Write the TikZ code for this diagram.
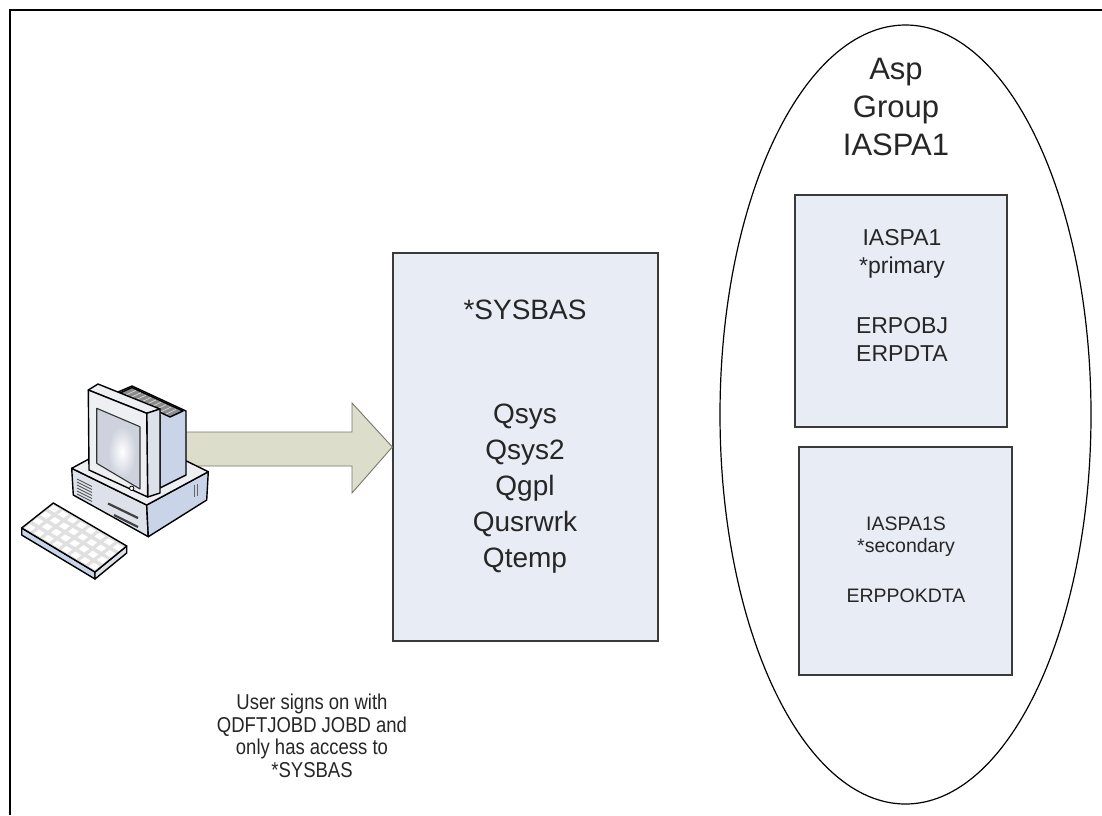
\documentclass[tikz,border=0pt]{standalone}
\usepackage{fontspec}
\setmainfont{Liberation Sans}
\newfontfamily\condfont[FakeStretch=0.86]{Liberation Sans}
\usetikzlibrary{calc,shapes.geometric}

\definecolor{boxfill}{HTML}{E8ECF5}
\definecolor{boxline}{HTML}{3A3A3A}
\definecolor{txt}{HTML}{262626}
\definecolor{arrowfill}{HTML}{DCDDCB}
\definecolor{arrowline}{HTML}{77776C}
\definecolor{pclight}{HTML}{EDEFF3}
\definecolor{pcmid}{HTML}{DCE1EA}
\definecolor{pcblue}{HTML}{C9D4E8}
\definecolor{pcscreen}{HTML}{CDD2DC}

\begin{document}
\begin{tikzpicture}[x=1pt,y=-1pt,
  panel/.style={draw=boxline, line width=1.3pt, fill=boxfill, inner sep=0pt},
  lbl/.style={text=txt, align=center, inner sep=0pt},
  pcline/.style={draw=black, line width=1.4pt, line join=round},
  blockarrow/.style={draw=arrowline, line width=0.9pt, fill=arrowfill, line join=miter},
]
\useasboundingbox (0,0) rectangle (1102,815);

% page frame (top and left rules)
\coordinate (frameBL) at (10,815);
\coordinate (frameTL) at (10,10);
\coordinate (frameTR) at (1102,10);
\draw[line width=1.5pt] (frameBL) -- (frameTL) -- (frameTR);

% ASP group ellipse with its two disk pools
\node[draw=black, line width=1.2pt, ellipse, inner sep=0pt,
      minimum width=371, minimum height=779] (grp) at (905.5,414.5) {};
\node[lbl, font=\fontsize{31}{38}\selectfont] (grptitle) at (896,107) {Asp\\Group\\IASPA1};

\node[panel, minimum width=212, minimum height=232] (primary) at (901,311) {};
\node[lbl, font=\fontsize{23}{28}\selectfont] (primA) at (902,254) {IASPA1\\*primary};
\node[lbl, font=\fontsize{23}{28}\selectfont] (primB) at (902,339) {ERPOBJ\\ERPDTA};

\node[panel, minimum width=213, minimum height=228] (secondary) at (905.5,561) {};
\node[lbl, font=\fontsize{19.5}{22}\selectfont] (secA) at (906,537) {IASPA1S\\*secondary};
\node[lbl, font=\fontsize{19.5}{22}\selectfont] (secB) at (906,596) {ERPPOKDTA};

% system ASP box
\node[panel, minimum width=265, minimum height=388] (sysbas) at (525.5,447) {};
\node[lbl, font=\fontsize{28}{34}\selectfont] (systitle) at (525,310) {*SYSBAS};
\node[lbl, font=\fontsize{28}{36}\selectfont] (libs) at (525,489) {Qsys\\Qsys2\\Qgpl\\Qusrwrk\\Qtemp};

% caption under the workstation
\node[lbl, font=\condfont\fontsize{21.5}{22.5}\selectfont] (caption) at (312,736)
  {User signs on with\\QDFTJOBD JOBD and\\only has access to\\*SYSBAS};

% sign-on arrow from the workstation into *SYSBAS
\coordinate (pc) at (120,460);
\draw[blockarrow] (170,432) -- (352,432) -- (352,403) -- (sysbas.west)
  -- (352,493) -- (352,466) -- (170,466) -- cycle;

% ---- workstation ----
% desktop case
\path[pcline, fill=pcmid]  (71.7,468.3) -- (146.7,505) -- (148.3,536.7) -- (73.3,495) -- cycle;
\path[pcline, fill=pcblue] (146.7,505) -- (208.3,471.7) -- (206.7,500) -- (148.3,536.7) -- cycle;
\path[pcline, fill=pclight] (71.7,468.3) -- (133.3,435) -- (208.3,471.7) -- (146.7,505) -- cycle;
\foreach \k in {0,...,5}
  \draw[line width=0.8pt, black!70] (77,{479+3*\k}) -- (92,{486.5+3*\k});
\draw[line width=2.2pt, black!75] (108,503.5) -- (138,518);
\draw[line width=2.2pt, black!75] (114,515) -- (138,527);
\draw[line width=0.8pt, black!60] (194,485) -- (194,497);
\draw[line width=0.8pt, black!60] (197,483.5) -- (197,495.5);

% monitor housing with its vent grille
\path[pcline, fill=pcblue] (118,392) -- (132,386) -- (186,411) -- (186,475) -- (160,488) -- (160,415) -- cycle;
\coordinate (ventA) at (120,393);
\path[pcline, fill=black!45] (ventA) -- (132,387.5) -- (183,411) -- (170,417) -- cycle;
\foreach \t in {0.1,0.2,...,0.9}
  \draw[line width=0.7pt, white!85!black] ($(ventA)+\t*(50,24)+(1,-0.5)$) -- ++(10,-4.6);
% bezel depth and front
\path[pcline, fill=pclight] (88.3,390) -- (98,384) -- (160,409) -- (146.7,413.3) -- cycle;
\path[pcline, fill=pcmid] (146.7,413.3) -- (160,409) -- (160,493) -- (147.7,497) -- cycle;
\path[pcline, fill=pclight] (88.3,390) -- (146.7,413.3) -- (147.7,497) -- (89,470) -- cycle;
\coordinate (scrA) at (96.7,408.3);
\coordinate (scrB) at (140,426.7);
\coordinate (scrC) at (140,489);
\coordinate (scrD) at (96.7,463.3);
\begin{scope}
  \clip (scrA) -- (scrB) -- (scrC) -- (scrD) -- cycle;
  \fill[pcscreen] (scrA) -- (scrB) -- (scrC) -- (scrD) -- cycle;
  \shade[inner color=white, outer color=pcscreen] (122,452) ellipse [x radius=14, y radius=26];
\end{scope}
\draw[line width=1.1pt, black!80, line join=round] (scrA) -- (scrB) -- (scrC) -- (scrD) -- cycle;
\draw[line width=0.8pt, fill=white] (131.7,488.3) circle [radius=2.2];

% keyboard
\coordinate (kbL) at (21.7,528);
\coordinate (kbT) at (53.3,503);
\coordinate (kbR) at (126.7,546);
\coordinate (kbB) at (95,572);
\path[pcline, fill=pcblue] (kbL) -- (kbB) -- ($(kbB)+(0,7)$) -- ($(kbL)+(0,7)$) -- cycle;
\path[pcline, fill=pcmid] (kbB) -- (kbR) -- ($(kbR)+(0,7)$) -- ($(kbB)+(0,7)$) -- cycle;
\path[pcline, fill=black!12] (kbL) -- (kbT) -- (kbR) -- (kbB) -- cycle;
\foreach \i in {0,...,7}
  \foreach \j in {0,...,3}
    \fill[white] ($(kbL)+{(\i+0.18)/8}*(73.3,44)+{(\j+0.2)/4}*(31.6,-25)$)
      -- ++($0.64/8*(73.3,44)$) -- ++($0.6/4*(31.6,-25)$) -- ++($-0.64/8*(73.3,44)$) -- cycle;
\end{tikzpicture}
\end{document}
